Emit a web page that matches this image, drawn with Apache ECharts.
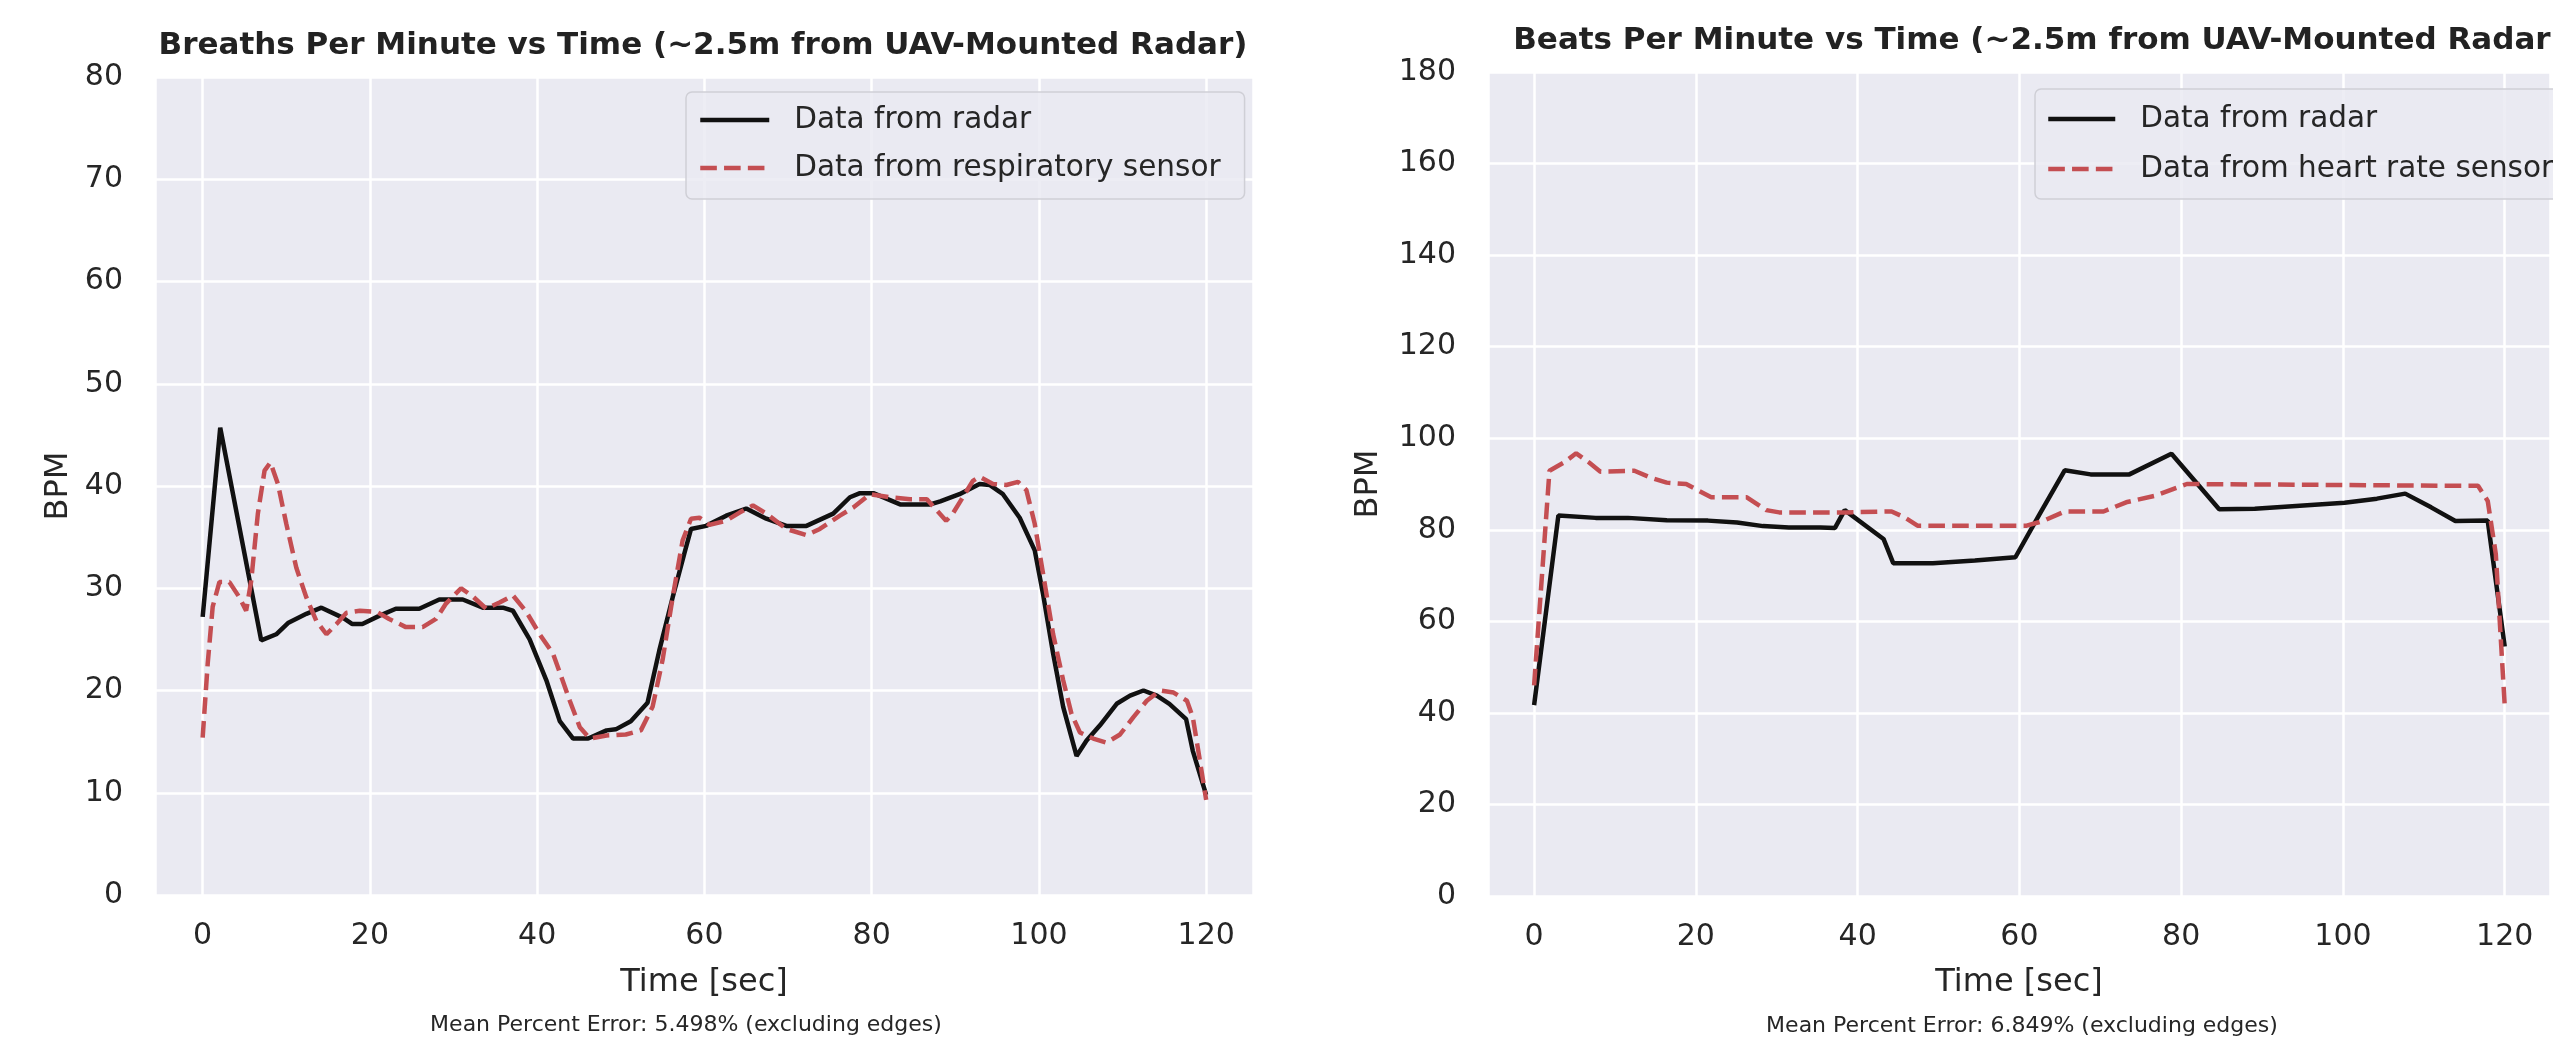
<!DOCTYPE html>
<html><head><meta charset="utf-8">
<script src="https://cdn.jsdelivr.net/npm/echarts@6/dist/echarts.min.js"></script>
<style>html,body{margin:0;padding:0;background:#fff;}#c{width:2553px;height:1038px;}</style>
</head><body><div id="c"></div>
<script>
// ---- data ----
const xTicks = [0, 20, 40, 60, 80, 100, 120];
const breathTimeRadar = [0, 2.1, 7.0, 8.8, 10.2, 12.4, 14.2, 16.8, 17.9, 19.1, 21.1, 23.1, 25.9, 28.3, 31.1, 33.5, 35.9, 37.1, 39.1, 41.1, 42.7, 44.3, 46.1, 48.3, 49.4, 51.2, 53.2, 54.6, 56.2, 57.6, 58.4, 60.2, 62.6, 65.0, 67.4, 69.8, 72.2, 75.4, 77.4, 78.6, 80.2, 83.4, 87.0, 88.2, 90.5, 92.9, 94.1, 95.7, 97.7, 99.5, 100.5, 101.7, 102.9, 104.5, 105.7, 107.3, 109.3, 110.9, 112.5, 114.1, 115.6, 117.6, 118.4, 120];
const breathRadar = [27.2, 45.7, 24.9, 25.5, 26.6, 27.5, 28.1, 27.1, 26.5, 26.5, 27.3, 28.0, 28.0, 28.9, 28.9, 28.1, 28.1, 27.8, 25.0, 21.0, 17.0, 15.3, 15.3, 16.1, 16.2, 17.0, 18.8, 23.9, 29.1, 33.4, 35.8, 36.1, 37.1, 37.8, 36.8, 36.1, 36.1, 37.3, 38.9, 39.3, 39.3, 38.2, 38.2, 38.5, 39.2, 40.2, 40.1, 39.2, 36.9, 33.7, 29.4, 23.6, 18.4, 13.6, 15.1, 16.6, 18.7, 19.5, 20.0, 19.5, 18.7, 17.2, 14.1, 9.8];
const breathTimeSensor = [0, 0.6, 1.2, 2.0, 3.2, 4.4, 5.2, 5.8, 6.6, 7.4, 8.1, 9.0, 10.0, 11.2, 12.4, 13.6, 14.8, 16.0, 17.2, 18.8, 20.8, 22.3, 24.3, 26.3, 27.9, 29.1, 30.9, 32.3, 33.9, 35.5, 37.1, 38.7, 40.3, 41.9, 43.9, 45.1, 46.3, 48.3, 50.6, 52.4, 53.8, 55.0, 56.2, 57.4, 58.4, 59.4, 60.6, 62.6, 64.2, 65.8, 67.4, 69.8, 72.2, 73.8, 76.2, 77.8, 79.8, 82.2, 84.6, 86.6, 87.8, 88.9, 89.7, 90.9, 92.1, 92.9, 94.5, 96.1, 97.5, 98.5, 99.5, 100.5, 101.7, 102.9, 103.9, 104.9, 106.5, 108.1, 109.7, 111.3, 112.9, 114.5, 116.1, 117.7, 118.4, 119.0, 120];
const breathSensor = [15.4, 22.6, 28.2, 30.6, 30.6, 29.1, 27.8, 30.7, 37.3, 41.5, 42.3, 40.2, 36.3, 32.0, 29.1, 26.8, 25.5, 26.5, 27.6, 27.8, 27.7, 27.0, 26.2, 26.2, 27.0, 28.5, 30.0, 29.2, 28.0, 28.6, 29.3, 27.7, 25.5, 23.6, 19.0, 16.4, 15.3, 15.6, 15.7, 16.1, 18.4, 23.0, 29.1, 34.7, 36.8, 36.9, 36.2, 36.6, 37.4, 38.1, 37.3, 35.8, 35.2, 35.8, 37.1, 37.9, 39.2, 38.9, 38.7, 38.7, 37.6, 36.6, 37.3, 38.9, 40.5, 40.9, 40.2, 40.1, 40.4, 39.6, 36.3, 31.4, 25.5, 21.0, 17.7, 15.9, 15.3, 14.9, 15.7, 17.4, 19.0, 20.0, 19.8, 19.0, 17.4, 14.4, 9.3];
const heartTimeRadar = [0, 3.0, 7.6, 11.6, 16.4, 21.5, 25.1, 28.3, 31.5, 35.4, 37.2, 38.4, 43.2, 44.4, 49.3, 54.5, 59.5, 62.5, 65.6, 68.8, 73.6, 78.8, 84.7, 89.1, 94.2, 100.2, 104.2, 107.7, 110.9, 113.9, 117.9, 120];
const heartRadar = [41.7, 83.1, 82.6, 82.6, 82.1, 82.0, 81.6, 80.8, 80.5, 80.5, 80.4, 84.3, 78.0, 72.7, 72.7, 73.3, 74.0, 83.4, 93.0, 92.1, 92.1, 96.6, 84.5, 84.6, 85.2, 85.9, 86.8, 87.9, 84.9, 81.9, 82.0, 54.5];
const heartTimeSensor = [0, 1.9, 3.7, 5.2, 6.8, 8.2, 12.4, 14.4, 16.4, 18.8, 20.4, 21.9, 26.3, 28.7, 30.3, 38.6, 44.2, 45.8, 47.4, 60.9, 62.9, 65.6, 70.4, 73.2, 76.7, 80.7, 114.9, 116.7, 117.9, 118.9, 120];
const heartSensor = [46.0, 92.9, 94.7, 96.7, 94.7, 92.7, 92.9, 91.4, 90.3, 90.0, 88.5, 87.1, 87.1, 84.3, 83.8, 83.8, 84.0, 82.7, 80.9, 80.9, 81.9, 84.0, 84.0, 86.0, 87.4, 90.0, 89.6, 89.6, 86.3, 74.7, 41.7];

const leftTitle = 'Breaths Per Minute vs Time (~2.5m from UAV-Mounted Radar)';
const rightTitle = 'Beats Per Minute vs Time (~2.5m from UAV-Mounted Radar)';
const leftNote = 'Mean Percent Error: 5.498% (excluding edges)';
const rightNote = 'Mean Percent Error: 6.849% (excluding edges)';
const nameRadar = 'Data from radar';
const nameResp = 'Data from respiratory sensor';
const nameHeart = 'Data from heart rate sensor';

// ---- chart ----
const FONT = 'DejaVu Sans';
const TXT = '#262626';
const RED = '#C44E52';
const BLACK = '#111111';
const zip = (xs, ys) => xs.map((x, i) => [x, ys[i]]);

function xAxisCfg(gi, gap) {
  return {
    type: 'value', gridIndex: gi, min: -5.7, max: 125.6, splitNumber: 7,
    axisLine: { show: false }, axisTick: { show: false },
    axisLabel: { fontFamily: FONT, fontSize: 30, color: TXT, margin: 26,
      formatter: v => (xTicks.indexOf(v) >= 0 ? String(v) : '') },
    splitLine: { show: true, lineStyle: { color: '#ffffff', width: 2.5 } },
    name: 'Time [sec]', nameLocation: 'middle', nameGap: gap,
    nameTextStyle: { fontFamily: FONT, fontSize: 32, color: TXT }
  };
}
function yAxisCfg(gi, max, interval, gap) {
  return {
    type: 'value', gridIndex: gi, min: 0, max: max, interval: interval,
    axisLine: { show: false }, axisTick: { show: false },
    axisLabel: { fontFamily: FONT, fontSize: 30, color: TXT, margin: 32 },
    splitLine: { show: true, lineStyle: { color: '#ffffff', width: 2.5 } },
    name: 'BPM', nameLocation: 'middle', nameGap: gap,
    nameTextStyle: { fontFamily: FONT, fontSize: 32, color: TXT }
  };
}
function radarSeries(xi, data) {
  return { type: 'line', name: nameRadar, xAxisIndex: xi, yAxisIndex: xi, data: data,
    symbol: 'none', lineStyle: { color: BLACK, width: 4.5 }, itemStyle: { color: BLACK }, z: 2 };
}
function sensorSeries(xi, name, data) {
  return { type: 'line', name: name, xAxisIndex: xi, yAxisIndex: xi, data: data,
    symbol: 'none', lineStyle: { color: RED, width: 4.5, type: [16.6, 7.2] }, itemStyle: { color: RED }, z: 3 };
}
function legendCfg(names, left, top, pad, gap, iw) {
  return {
    data: names, orient: 'vertical', left: left, top: top, padding: pad, itemGap: gap,
    itemWidth: iw, itemHeight: 14,
    itemStyle: { opacity: 0, borderWidth: 0 },
    lineStyle: { width: 4.5 },
    backgroundColor: 'rgba(234,234,242,0.85)', borderColor: '#cfcfd6', borderWidth: 1.5, borderRadius: 6,
    textStyle: { fontFamily: FONT, fontSize: 29.5, color: TXT, lineHeight: 32, padding: [0, 0, 0, 20] },
    selectedMode: false
  };
}

const option = {
  backgroundColor: '#ffffff',
  animation: false,
  title: [
    { text: leftTitle, left: 703, top: 28, textAlign: 'center', padding: 0,
      textStyle: { fontFamily: FONT, fontWeight: 'bold', fontSize: 31, color: '#222222', lineHeight: 36 } },
    { text: rightTitle, left: 2039, top: 23, textAlign: 'center', padding: 0,
      textStyle: { fontFamily: FONT, fontWeight: 'bold', fontSize: 31, color: '#222222', lineHeight: 36 } },
    { text: leftNote, left: 686, top: 1012, textAlign: 'center', padding: 0,
      textStyle: { fontFamily: FONT, fontWeight: 'normal', fontSize: 22, color: TXT, lineHeight: 26 } },
    { text: rightNote, left: 2022, top: 1013, textAlign: 'center', padding: 0,
      textStyle: { fontFamily: FONT, fontWeight: 'normal', fontSize: 22, color: TXT, lineHeight: 26 } }
  ],
  grid: [
    { left: 155, top: 77, width: 1098, height: 818, show: true, backgroundColor: '#EAEAF2', borderWidth: 0 },
    { left: 1488, top: 72, width: 1102, height: 824, show: true, backgroundColor: '#EAEAF2', borderWidth: 0 }
  ],
  xAxis: [xAxisCfg(0, 72), xAxisCfg(1, 71)],
  yAxis: [yAxisCfg(0, 80, 10, 80), yAxisCfg(1, 180, 20, 103)],
  legend: [
    legendCfg([nameRadar, nameResp], 686, 92, [12, 24, 15, 12], 16, 69),
    legendCfg([nameRadar, nameHeart], 2035, 89, [14, 24, 14, 11], 18, 67)
  ],
  series: [
    radarSeries(0, zip(breathTimeRadar, breathRadar)),
    sensorSeries(0, nameResp, zip(breathTimeSensor, breathSensor)),
    radarSeries(1, zip(heartTimeRadar, heartRadar)),
    sensorSeries(1, nameHeart, zip(heartTimeSensor, heartSensor))
  ]
};
const chart = echarts.init(document.getElementById('c'), null, { renderer: 'canvas' });
chart.setOption(option);
</script>
</body></html>
